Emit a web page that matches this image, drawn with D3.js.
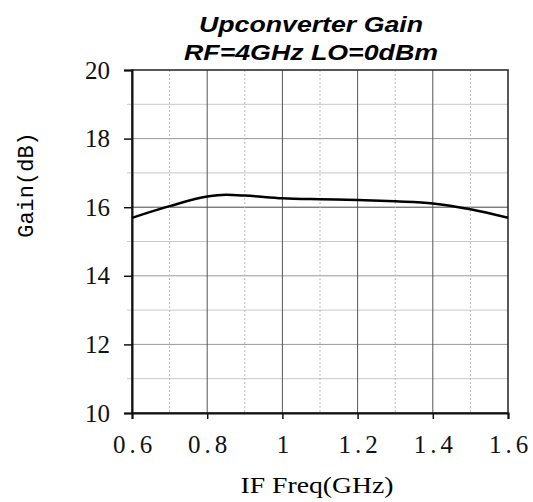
<!DOCTYPE html>
<html>
<head>
<meta charset="utf-8">
<script src="https://cdn.jsdelivr.net/npm/d3@7"></script>
<style>
  body { margin: 0; background: #fff; }
</style>
</head>
<body>
<svg id="chart" width="533" height="502"></svg>
<script>
(function (d3) {
  'use strict';

  // values
  const freqs = [0.6, 0.7, 0.8, 0.85, 0.9, 1.0, 1.1, 1.2, 1.3, 1.4, 1.5, 1.6];
  const gains = [15.69, 16.03, 16.31, 16.36, 16.34, 16.26, 16.23, 16.21, 16.17, 16.11, 15.94, 15.69];

  const xTicks = [0.6, 0.8, 1.0, 1.2, 1.4, 1.6];
  const xMinor = [0.7, 0.9, 1.1, 1.3, 1.5];
  const yTicks = [10, 12, 14, 16, 18, 20];
  const yMinor = [11, 13, 15, 17, 19];

  const titleLines = ['Upconverter Gain', 'RF=4GHz LO=0dBm'];

  const svg = d3.select('#chart');
  const left = 132, right = 508, top = 70, bottom = 413;
  const serif = '"Liberation Serif", "DejaVu Serif", serif';

  const x = d3.scaleLinear().domain([0.6, 1.6]).range([left, right]);
  const y = d3.scaleLinear().domain([10, 20]).range([bottom, top]);

  // grid
  svg.selectAll('line.ymin').data(yMinor).enter().append('line')
    .attr('x1', left - 5).attr('x2', right)
    .attr('y1', d => y(d)).attr('y2', d => y(d))
    .attr('stroke', '#c8c8c8').attr('stroke-width', 1);
  svg.selectAll('line.ymaj').data(yTicks.slice(1, -1)).enter().append('line')
    .attr('x1', left).attr('x2', right)
    .attr('y1', d => y(d)).attr('y2', d => y(d))
    .attr('stroke', d => d === 16 ? '#444' : '#999').attr('stroke-width', 1);
  svg.selectAll('line.xmin').data(xMinor).enter().append('line')
    .attr('x1', d => x(d)).attr('x2', d => x(d))
    .attr('y1', top).attr('y2', bottom)
    .attr('stroke', '#bbb').attr('stroke-width', 1)
    .attr('stroke-dasharray', '2,2');
  svg.selectAll('line.xmaj').data(xTicks.slice(1, -1)).enter().append('line')
    .attr('x1', d => x(d)).attr('x2', d => x(d))
    .attr('y1', top).attr('y2', bottom)
    .attr('stroke', '#555').attr('stroke-width', 1);

  // frame
  svg.append('rect')
    .attr('x', left).attr('y', top)
    .attr('width', right - left).attr('height', bottom - top)
    .attr('fill', 'none').attr('stroke', '#222').attr('stroke-width', 1.5);

  // axes
  const yAxis = svg.append('g')
    .attr('transform', `translate(${left},0)`)
    .call(d3.axisLeft(y).tickValues(yTicks).tickSize(8).tickPadding(14)
      .tickFormat(d3.format('d')));
  const xAxis = svg.append('g')
    .attr('transform', `translate(0,${bottom})`)
    .call(d3.axisBottom(x).tickValues(xTicks).tickSize(6).tickPadding(16)
      .tickFormat(d => d === 1 ? '1' : d3.format('.1f')(d)));

  [yAxis, xAxis].forEach(g => {
    g.attr('font-family', serif).attr('font-size', 25);
    g.select('.domain').attr('stroke', '#111').attr('stroke-width', 2);
    g.selectAll('.tick line').attr('stroke', '#111').attr('stroke-width', 1.5);
    g.selectAll('.tick text').attr('fill', '#111');
  });
  xAxis.selectAll('.tick text').style('letter-spacing', '4px').attr('dx', '2px');

  // curve
  const line = d3.line()
    .x((d, i) => x(freqs[i]))
    .y(d => y(d))
    .curve(d3.curveMonotoneX);
  svg.append('path')
    .datum(gains)
    .attr('d', line)
    .attr('fill', 'none')
    .attr('stroke', '#000')
    .attr('stroke-width', 2.5);

  // labels
  const titleWidths = [224, 254];
  svg.selectAll('text.title').data(titleLines).enter().append('text')
    .attr('x', 311).attr('y', (d, i) => 32 + i * 28)
    .attr('text-anchor', 'middle')
    .attr('textLength', (d, i) => titleWidths[i])
    .attr('lengthAdjust', 'spacingAndGlyphs')
    .style('font-family', '"Liberation Sans", Arial, sans-serif')
    .style('font-size', '22px')
    .style('font-weight', 'bold')
    .style('font-style', 'italic')
    .text(d => d);

  svg.append('text')
    .attr('x', 317).attr('y', 493)
    .attr('text-anchor', 'middle')
    .attr('textLength', 153)
    .attr('lengthAdjust', 'spacingAndGlyphs')
    .style('font-family', serif)
    .style('font-size', '24px')
    .text('IF Freq(GHz)');

  svg.append('text')
    .attr('transform', 'translate(33,185) rotate(-90)')
    .attr('text-anchor', 'middle')
    .style('font-family', '"Liberation Mono", "DejaVu Sans Mono", monospace')
    .style('font-size', '22px')
    .text('Gain(dB)');

}(d3));
</script>
</body>
</html>
